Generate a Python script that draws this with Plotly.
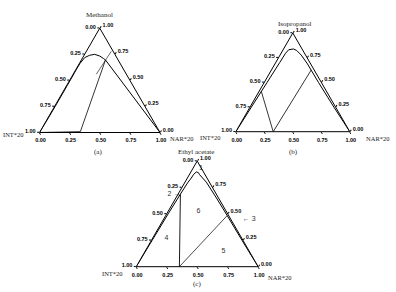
import plotly.graph_objects as go

# ---------------- data (a = solvent, c = NAR*20, b = INT*20 = 1 - a - c) ----------------
TICK_VALS = [0.0, 0.25, 0.5, 0.75, 1.0]
TICK_TEXT = ["1.00", "0.75", "0.50", "0.25", "0.00"]

# (a) Methanol
A_curve_a = [0.00, 0.15, 0.30, 0.45, 0.60, 0.66, 0.718, 0.740, 0.749, 0.733, 0.708, 0.695, 0.00]
A_curve_c = [0.00, 0.004, 0.005, 0.005, 0.004, 0.005, 0.016, 0.046, 0.083, 0.133, 0.178, 0.200, 1.00]
A_line1_a = [0.00, 0.008]
A_line1_c = [0.00, 0.335]
A_line2_a = [0.008, 0.695]
A_line2_c = [0.335, 0.200]
A_tie_a = [0.558, 0.778]
A_tie_c = [0.192, 0.207]

# (b) Isopropanol
B_curve_a = [0.00, 0.25, 0.50, 0.70, 0.794, 0.830, 0.838, 0.823, 0.776, 0.686, 0.50, 0.25, 0.00]
B_curve_c = [0.00, 0.012, 0.025, 0.035, 0.039, 0.049, 0.086, 0.122, 0.186, 0.286, 0.475, 0.735, 1.00]
B_line1_a = [0.00, 0.408]
B_line1_c = [0.328, 0.020]
B_line2_a = [0.00, 0.624]
B_line2_c = [0.328, 0.349]

# (c) Ethyl acetate
C_curve_a = [0.00, 0.25, 0.50, 0.687, 0.80, 0.839, 0.875, 0.897, 0.890, 0.871, 0.80, 0.65, 0.484, 0.25, 0.00]
C_curve_c = [0.00, 0.006, 0.012, 0.019, 0.025, 0.032, 0.034, 0.045, 0.065, 0.084, 0.175, 0.333, 0.504, 0.742, 1.00]
C_line1_a = [0.00, 0.687]
C_line1_c = [0.354, 0.019]
C_line2_a = [0.00, 0.484]
C_line2_c = [0.354, 0.504]
C_region_text = ["4", "6", "5"]
C_region_a = [0.265, 0.526, 0.145]
C_region_c = [0.116, 0.248, 0.643]
C_point_text = ["1", "2 \u2192", "\u00a0\u00a0\u00a0\u00a0\u00a0\u00a0\u00a0\u00a0\u2190 3"]
C_point_a = [0.93, 0.687, 0.484]
C_point_c = [0.05, 0.019, 0.504]
C_point_pos = ["middle right", "middle left", "bottom right"]

# ---------------- figure ----------------
fig = go.Figure()


def add_line(subplot, a, c, width=1.0):
    b = [1 - ai - ci for ai, ci in zip(a, c)]
    fig.add_trace(go.Scatterternary(
        a=a, b=b, c=c, mode="lines", subplot=subplot,
        line=dict(color="black", width=width), hoverinfo="skip", showlegend=False,
    ))


add_line("ternary", A_curve_a, A_curve_c, 1.0)
add_line("ternary", A_line1_a, A_line1_c, 0.8)
add_line("ternary", A_line2_a, A_line2_c, 0.8)
add_line("ternary", A_tie_a, A_tie_c, 0.6)

add_line("ternary2", B_curve_a, B_curve_c, 1.0)
add_line("ternary2", B_line1_a, B_line1_c, 0.8)
add_line("ternary2", B_line2_a, B_line2_c, 0.8)

add_line("ternary3", C_curve_a, C_curve_c, 1.0)
add_line("ternary3", C_line1_a, C_line1_c, 0.9)
add_line("ternary3", C_line2_a, C_line2_c, 0.7)

fig.add_trace(go.Scatterternary(
    a=C_region_a, c=C_region_c,
    b=[1 - a - c for a, c in zip(C_region_a, C_region_c)],
    mode="text", text=C_region_text, subplot="ternary3",
    textfont=dict(family="Liberation Sans", size=7, color="#333"),
    hoverinfo="skip", showlegend=False,
))
fig.add_trace(go.Scatterternary(
    a=C_point_a, c=C_point_c,
    b=[1 - a - c for a, c in zip(C_point_a, C_point_c)],
    mode="text", text=C_point_text, textposition=C_point_pos, subplot="ternary3",
    textfont=dict(family="Liberation Sans", size=7, color="#333"),
    cliponaxis=False, hoverinfo="skip", showlegend=False,
))

W, H = 396, 292


def axis():
    return dict(
        title=dict(text=""),
        tickmode="array", tickvals=TICK_VALS, ticktext=TICK_TEXT,
        ticks="outside", ticklen=2, tickwidth=0.8, tickcolor="black",
        tickfont=dict(family="Liberation Sans", size=5.5, color="black", weight="bold"),
        showgrid=False, showline=True, linecolor="black", linewidth=1,
        min=0,
    )


def ternary_layout(bl_x, br_x, bottom_y):
    w = br_x - bl_x
    h = w * 3 ** 0.5 / 2
    top_y = bottom_y - h
    return dict(
        domain=dict(x=[bl_x / W, br_x / W], y=[1 - bottom_y / H, 1 - top_y / H]),
        sum=1, bgcolor="white",
        aaxis=axis(), baxis=axis(), caxis=axis(),
    )


ann = []


def txt(text, x, y, size=6.5, xanchor="center"):
    ann.append(dict(text=text, x=x / W, y=1 - y / H, xref="paper", yref="paper",
                    showarrow=False, xanchor=xanchor, yanchor="middle",
                    font=dict(family="Liberation Serif", size=size, color="#222")))


txt("Methanol", 99, 15, 7)
txt("INT*20", 26, 134, xanchor="right")
txt("NAR*20", 168, 138, xanchor="left")
txt("(a)", 98, 152, 7)

txt("Isopropanol", 294, 24, 7)
txt("INT*20", 223, 137, xanchor="right")
txt("NAR*20", 364, 138, xanchor="left")
txt("(b)", 293, 152, 7)

txt("Ethyl acetate", 196, 152, 7)
txt("INT*20", 125, 273, xanchor="right")
txt("NAR*20", 266, 277, xanchor="left")
txt("(c)", 197, 284, 7)

fig.update_layout(
    width=W, height=H,
    margin=dict(l=0, r=0, t=0, b=0),
    paper_bgcolor="white", plot_bgcolor="white",
    showlegend=False,
    ternary=ternary_layout(39.5, 160.0, 132.5),
    ternary2=ternary_layout(235.8, 349.8, 131.7),
    ternary3=ternary_layout(136.2, 258.2, 266.7),
    annotations=ann,
)

fig.write_html(
    "out.html",
    config={"displayModeBar": False},
    post_script="document.body.style.margin='0';document.body.style.overflow='hidden';",
)
